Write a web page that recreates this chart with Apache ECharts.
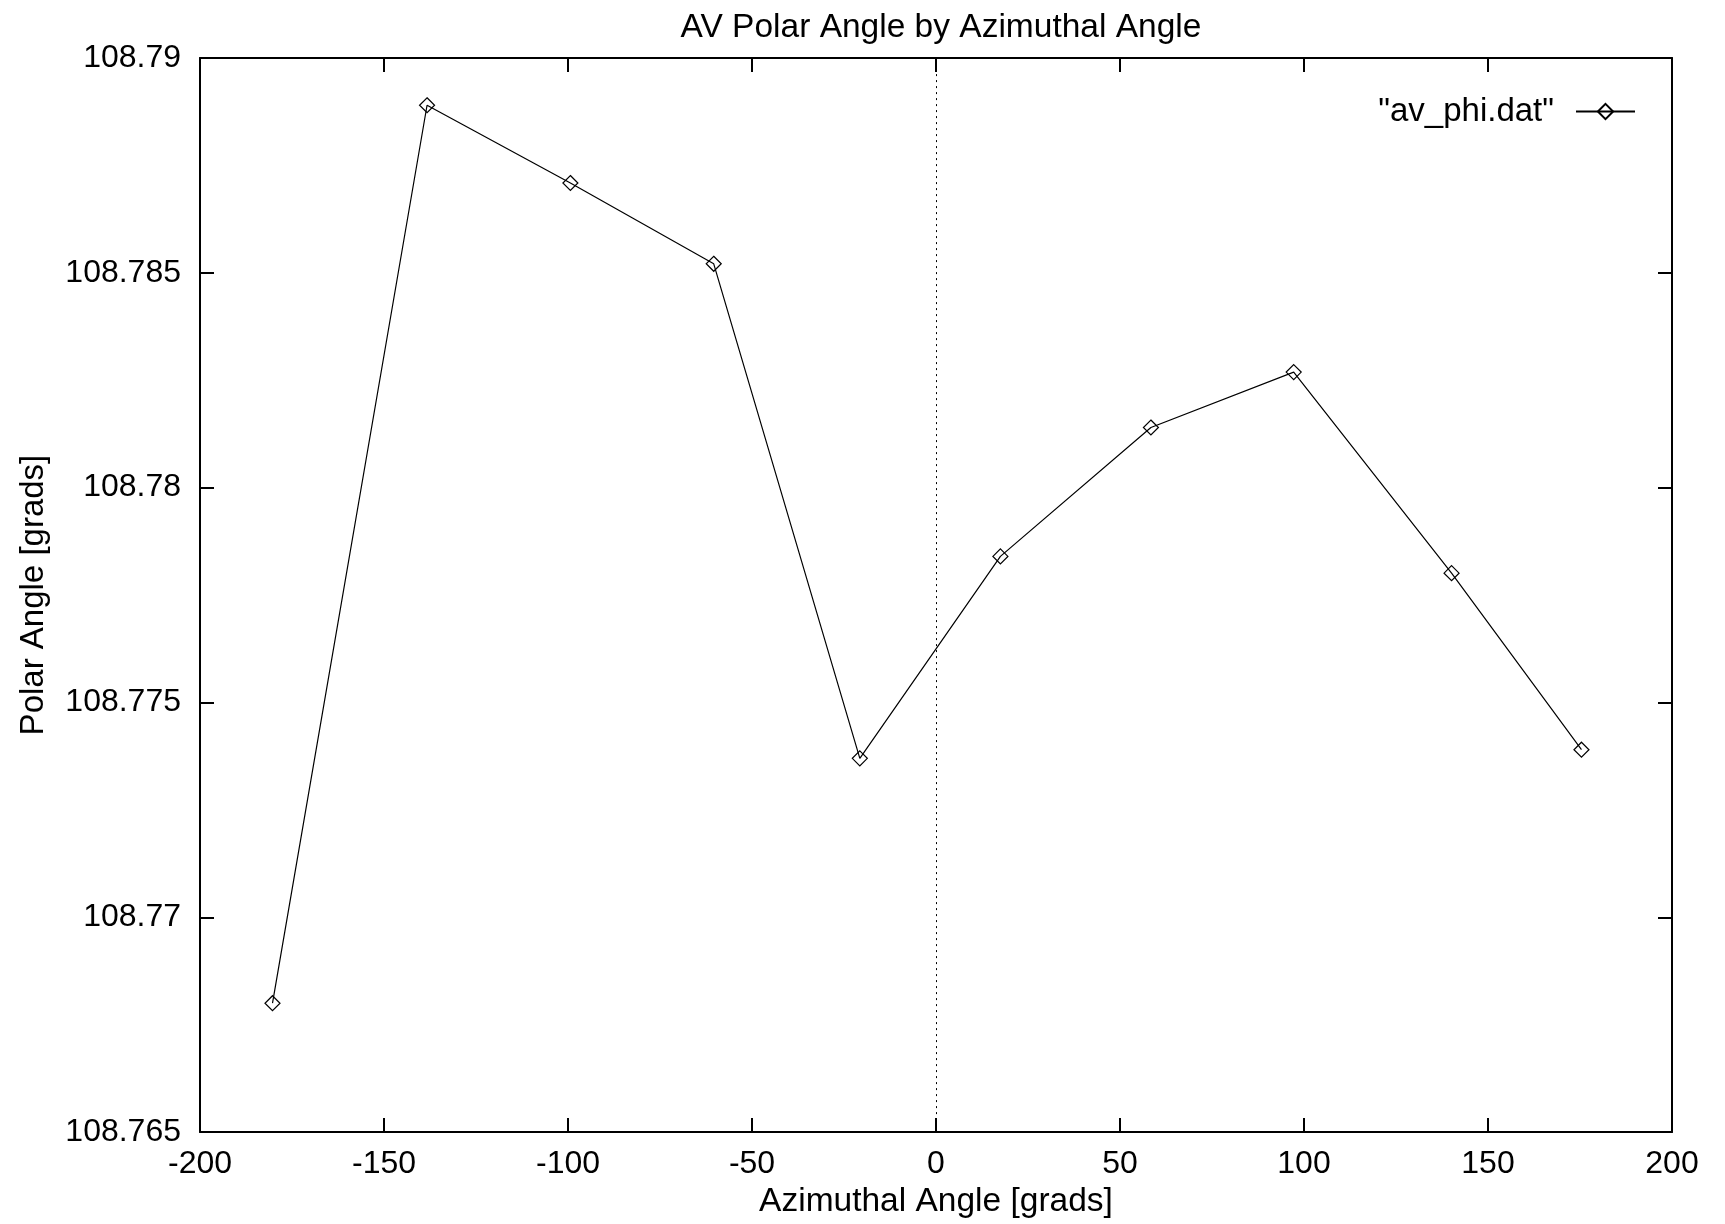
<!DOCTYPE html>
<html>
<head>
<meta charset="utf-8">
<script src="https://cdn.jsdelivr.net/npm/echarts@6/dist/echarts.min.js"></script>
<style>
html,body{margin:0;padding:0;background:#fff;}
#chart{width:1725px;height:1224px;}
</style>
</head>
<body>
<div id="chart"></div>
<script>
// Data
const azimuth = [-180.3, -138.3, -99.35, -60.4, -20.7, 17.5, 58.4, 97.2, 140.1, 175.4];
const polar = [108.7680, 108.7889, 108.78709, 108.78521, 108.77370, 108.77840, 108.78140, 108.78269, 108.77801, 108.77390];
const xTicks = [-200, -150, -100, -50, 0, 50, 100, 150, 200];
const yTicks = [108.765, 108.77, 108.775, 108.78, 108.785, 108.79];
const seriesName = '"av_phi.dat"';
const titleText = 'AV Polar Angle by Azimuthal Angle';
const xName = 'Azimuthal Angle [grads]';
const yName = 'Polar Angle [grads]';

const FONT = "'Liberation Sans', Arial, sans-serif";
const points = azimuth.map((x, i) => [x, polar[i]]);
const xInterval = xTicks[1] - xTicks[0];
const yInterval = +(yTicks[1] - yTicks[0]).toFixed(6);

const GRID = {left: 200, right: 53, top: 58, bottom: 91};
const plotCenterX = GRID.left + (1725 - GRID.left - GRID.right) / 2;

const axisLine = {show: true, onZero: false, lineStyle: {color: '#000', width: 2}};
const axisTick = {show: true, inside: true, length: 14, lineStyle: {color: '#000', width: 2}};

function xAxisDef(pos, labels) {
  return {
    type: 'value', position: pos,
    min: xTicks[0], max: xTicks[xTicks.length - 1], interval: xInterval,
    axisLine: axisLine, axisTick: axisTick, splitLine: {show: false},
    axisLabel: {show: labels, color: '#000', fontSize: 32, fontFamily: FONT, margin: 16},
    name: labels ? xName : '', nameLocation: 'middle', nameGap: 49,
    nameTextStyle: {color: '#000', fontSize: 33.5, fontFamily: FONT}
  };
}
function yAxisDef(pos, labels) {
  return {
    type: 'value', position: pos,
    min: yTicks[0], max: yTicks[yTicks.length - 1], interval: yInterval,
    axisLine: axisLine, axisTick: axisTick, splitLine: {show: false},
    axisLabel: {show: labels, color: '#000', fontSize: 32, fontFamily: FONT, margin: 19,
      formatter: v => String(+v.toFixed(3))},
    name: labels ? yName : '', nameLocation: 'middle', nameGap: 150, nameRotate: 90,
    nameTextStyle: {color: '#000', fontSize: 33, fontFamily: FONT}
  };
}

const chart = echarts.init(document.getElementById('chart'), null, {renderer: 'canvas'});
chart.setOption({
  animation: false,
  backgroundColor: '#fff',
  title: {
    text: titleText, left: plotCenterX, textAlign: 'center', top: 6,
    textStyle: {color: '#000', fontSize: 33.5, fontWeight: 'normal', fontFamily: FONT}
  },
  grid: Object.assign({containLabel: false}, GRID),
  legend: {
    right: 89, top: 95, align: 'right', orient: 'vertical', padding: 0,
    itemWidth: 59, itemHeight: 19,
    textStyle: {color: '#000', fontSize: 33, fontFamily: FONT, padding: [0, 17, 0, 0]},
    data: [seriesName]
  },
  xAxis: [xAxisDef('bottom', true), xAxisDef('top', false)],
  yAxis: [yAxisDef('left', true), yAxisDef('right', false)],
  series: [{
    name: seriesName,
    type: 'line',
    xAxisIndex: 0, yAxisIndex: 0,
    data: points,
    symbol: 'diamond',
    symbolSize: 15,
    showAllSymbol: true,
    lineStyle: {color: '#000', width: 1.2},
    itemStyle: {color: 'rgba(0,0,0,0)', borderColor: '#000', borderWidth: 1.2},
    emphasis: {disabled: true},
    markLine: {
      silent: true,
      symbol: ['none', 'none'],
      label: {show: false},
      lineStyle: {color: '#000', width: 1, type: [2, 4]},
      data: [{xAxis: 0}]
    }
  }]
});
</script>
</body>
</html>
